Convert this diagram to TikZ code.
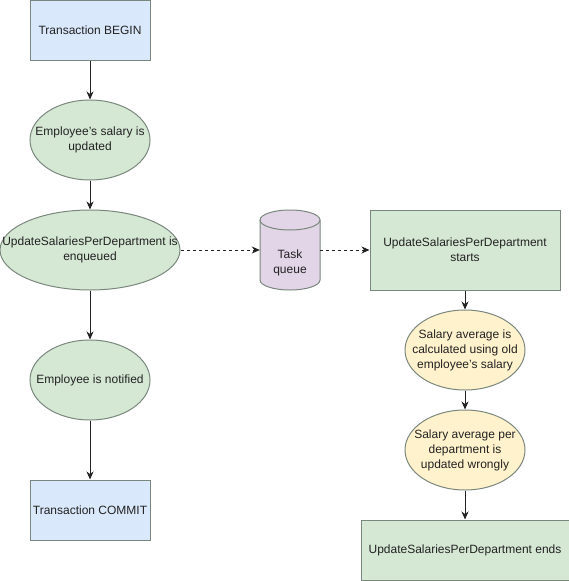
\documentclass[tikz,border=0pt]{standalone}
\usepackage{fontspec}
\setmainfont{Liberation Sans}
\usetikzlibrary{shapes.geometric,arrows.meta}
\definecolor{bluefill}{HTML}{DAE8FC}
\definecolor{greenfill}{HTML}{D5E8D4}
\definecolor{yellowfill}{HTML}{FFF2CC}
\definecolor{purplefill}{HTML}{E1D5E7}
\definecolor{edgegray}{HTML}{7A877C}
\definecolor{inkgray}{HTML}{222222}
\tikzset{
  base/.style={draw=edgegray, line width=1pt, inner sep=0pt},
  bluebox/.style={base, rectangle, fill=bluefill, minimum width=120pt, minimum height=60pt},
  greenbox/.style={base, rectangle, fill=greenfill},
  greenell/.style={base, ellipse, fill=greenfill},
  yellowell/.style={base, ellipse, fill=yellowfill, minimum width=120pt, minimum height=80pt},
  txt/.style={align=center, text=inkgray, font=\fontsize{12}{15}\selectfont, inner sep=0pt},
  flow/.style={draw=inkgray, line width=1pt, -{Stealth[length=8pt,width=7pt,inset=2.5pt]}},
  dflow/.style={flow, dash pattern=on 3pt off 3pt},
}
\begin{document}
\begin{tikzpicture}[x=1pt,y=-1pt]
\useasboundingbox (0,0) rectangle (569,581);
% left column
\node[bluebox] (begin) at (90,30) {};
\node[txt] at (begin) {Transaction BEGIN};
\node[greenell, minimum width=120pt, minimum height=80pt] (upd) at (90,140) {};
\node[txt] at (upd) {Employee's salary is\\updated};
\node[greenell, minimum width=180pt, minimum height=80pt] (enq) at (90,250) {};
\node[txt] at (enq) {UpdateSalariesPerDepartment is\\enqueued};
\node[greenell, minimum width=120pt, minimum height=80pt] (notif) at (90,380) {};
\node[txt] at (notif) {Employee is notified};
\node[bluebox] (commit) at (90,510) {};
\node[txt] at (commit) {Transaction COMMIT};
% queue cylinder
\node[inner sep=0pt, minimum width=60pt, minimum height=80pt] (queue) at (290,250) {};
\fill[purplefill] (260,220) -- (260,280) arc[start angle=180, end angle=360, x radius=30pt, y radius=10pt] -- (320,220) arc[start angle=0, end angle=180, x radius=30pt, y radius=10pt] -- cycle;
\draw[edgegray, line width=1pt] (260,220) -- (260,280) arc[start angle=180, end angle=360, x radius=30pt, y radius=10pt] -- (320,220);
\draw[edgegray, line width=1pt] (290,220) ellipse[x radius=30pt, y radius=10pt];
\node[txt] (qtext) at (290,263) {Task\\queue};
% right column
\node[greenbox, minimum width=190pt, minimum height=80pt] (starts) at (465,250) {};
\node[txt] at (starts) {UpdateSalariesPerDepartment\\starts};
\node[yellowell] (avg) at (465,350) {};
\node[txt] at (avg) {Salary average is\\calculated using old\\employee's salary};
\node[yellowell] (wrong) at (465,450) {};
\node[txt] at (wrong) {Salary average per\\department is\\updated wrongly};
\node[greenbox, minimum width=208pt, minimum height=60pt] (ends) at (465,550) {};
\node[txt] at (ends) {UpdateSalariesPerDepartment ends};
% connectors
\draw[flow] (begin) -- (upd);
\draw[flow] (upd) -- (enq);
\draw[flow] (enq) -- (notif);
\draw[flow] (notif) -- (commit);
\draw[dflow] (enq.east) -- (queue.west);
\draw[dflow] (queue.east) -- (starts.west);
\draw[flow] (starts) -- (avg);
\draw[flow] (avg) -- (wrong);
\draw[flow] (wrong) -- (ends);
\end{tikzpicture}
\end{document}
